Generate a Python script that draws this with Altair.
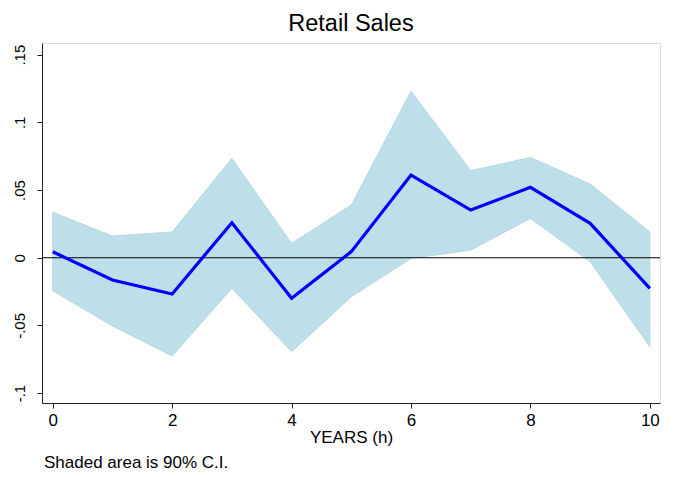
import altair as alt
import pandas as pd

# Impulse response of retail sales with 90% confidence band
horizon = [0, 1, 2, 3, 4, 5, 6, 7, 8, 9, 10]
response = [0.0044, -0.0165, -0.0268, 0.0259, -0.0300, 0.0045, 0.0610, 0.0352, 0.0520, 0.0254, -0.0226]
upper = [0.0335, 0.0160, 0.0190, 0.0734, 0.0106, 0.0389, 0.1230, 0.0643, 0.0741, 0.0544, 0.0190]
lower = [-0.0244, -0.0504, -0.0726, -0.0226, -0.0694, -0.0288, -0.0005, 0.0057, 0.0290, -0.0030, -0.0657]

y_ticks = [-0.1, -0.05, 0, 0.05, 0.1, 0.15]
x_ticks = [0, 2, 4, 6, 8, 10]

df = pd.DataFrame({"h": horizon, "irf": response, "hi": upper, "lo": lower})

FONT = "Liberation Sans"

x_scale = alt.Scale(domain=[-0.18, 10.17], nice=False, zero=False)
y_scale = alt.Scale(domain=[-0.1073, 0.1586], nice=False, zero=False)

x_axis = alt.Axis(
    values=x_ticks, format="d", title="YEARS (h)", grid=False, tickSize=5, labelFontSize=17,
    titleFontSize=17, titleFontWeight="normal", labelPadding=4, titlePadding=1,
    domainColor="#222222", tickColor="#222222", labelColor="#000000", titleColor="#000000",
    labelFont=FONT, titleFont=FONT,
)
# Stata-style labels: no leading zero, plain hyphen for negatives
y_axis = alt.Axis(
    values=y_ticks, title=None, grid=False, tickSize=5, labelFontSize=15,
    labelAngle=270, labelAlign="center", labelBaseline="bottom", labelPadding=10,
    labelExpr="datum.value == 0 ? '0' : replace(replace(format(datum.value, '.2~f'), '0.', '.'), '\u2212', '-')",
    domainColor="#222222", tickColor="#222222", labelColor="#000000", labelFont=FONT,
)

band = alt.Chart(df).mark_area(color="#bddfe9", opacity=1, stroke="#b3d9e4", strokeWidth=1).encode(
    x=alt.X("h:Q", scale=x_scale, axis=x_axis),
    y=alt.Y("hi:Q", scale=y_scale, axis=y_axis),
    y2="lo:Q",
)

zero = alt.Chart(pd.DataFrame({"z": [0]})).mark_rule(color="black", strokeWidth=1.2).encode(
    y=alt.Y("z:Q", scale=y_scale),
)

line = alt.Chart(df).mark_line(color="#0000ff", strokeWidth=3.2).encode(
    x=alt.X("h:Q", scale=x_scale),
    y=alt.Y("irf:Q", scale=y_scale),
)

note = alt.Chart(pd.DataFrame({"t": ["Shaded area is 90% C.I."]})).mark_text(
    align="left", baseline="alphabetic", fontSize=17, font=FONT, color="black"
).encode(x=alt.value(2), y=alt.value(425), text="t:N")

chart = (
    alt.layer(band, zero, line, note)
    .properties(
        width=618,
        height=360,
        title=alt.TitleParams("Retail Sales", fontSize=23.5, font=FONT, fontWeight="normal",
                              color="black", anchor="middle", offset=8),
        autosize=alt.AutoSizeParams(type="none"),
        padding={"left": 42, "top": 43, "right": 20, "bottom": 74},
    )
    .configure_view(stroke="black", strokeWidth=1)
    .configure(background="white")
)

chart.save("out.html", embed_options={"renderer": "svg", "actions": False})
